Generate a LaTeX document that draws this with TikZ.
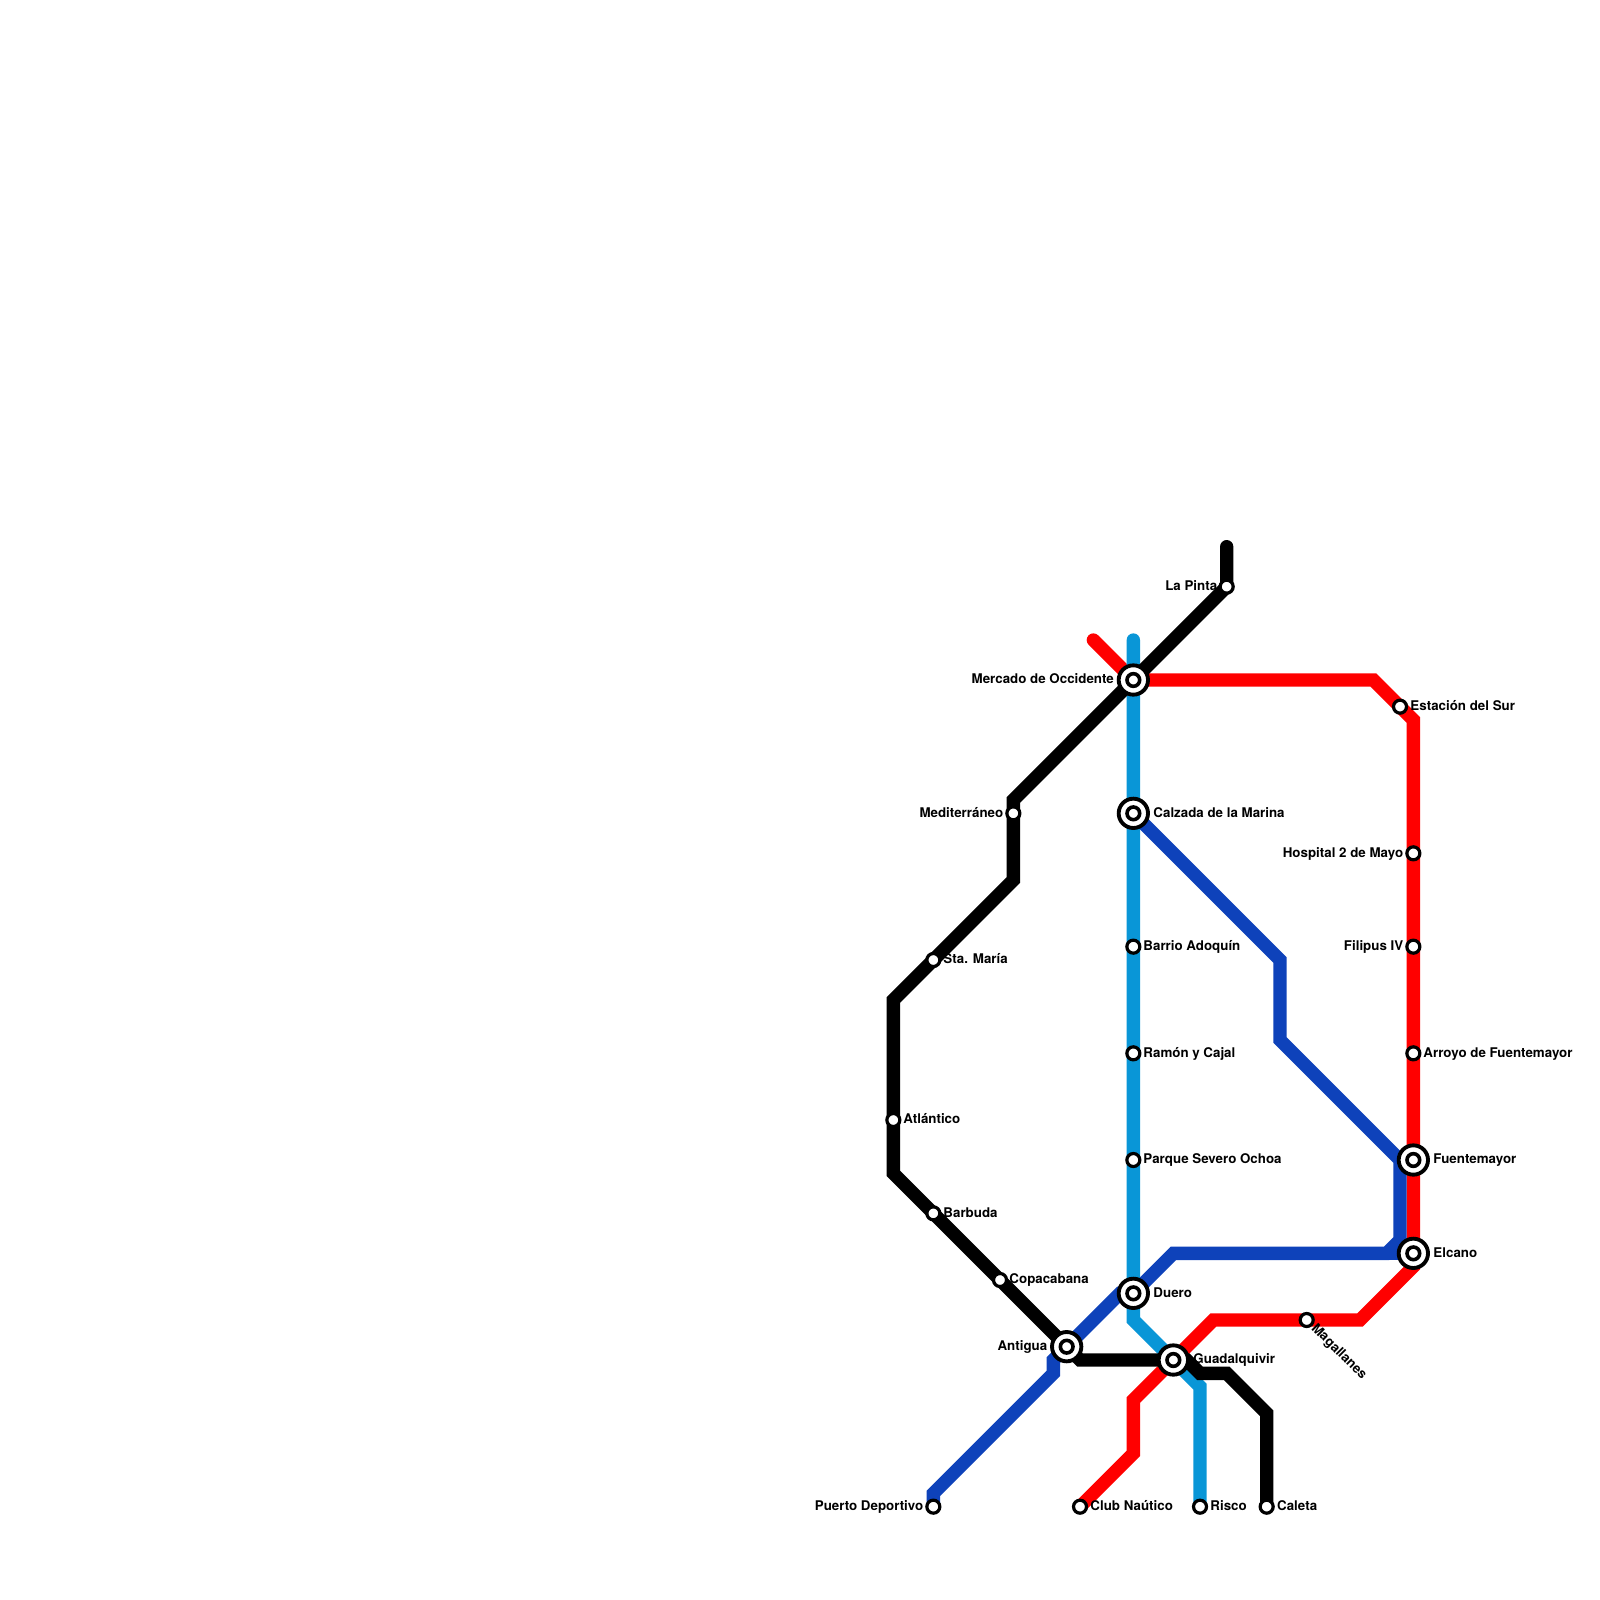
\documentclass[tikz,border=0pt]{standalone}
\usepackage{fontspec}
\setmainfont{TeX Gyre Heros}
\definecolor{linered}{RGB}{255,0,0}
\definecolor{linecyan}{RGB}{9,150,215}
\definecolor{lineblue}{RGB}{14,66,186}
\usetikzlibrary{positioning,backgrounds}

\begin{document}
\begin{tikzpicture}[x=0.2cm, y=-0.2cm,
  stn/.style={circle, draw=black, fill=white, line width=0.48mm, minimum size=1.95mm, inner sep=0pt},
  hub/.style={circle, draw=black, fill=white, line width=0.58mm, minimum size=4.4mm, inner sep=0pt,
    path picture={\draw[line width=0.54mm] (path picture bounding box.center) circle (0.95mm);}},
  lbl/.style={font=\fontsize{5.69pt}{6.8pt}\selectfont\bfseries, inner sep=0pt, text height=4.1pt, text depth=0pt, yshift=0.4pt},
  metro/.style={line width=2mm, line cap=round, line join=miter, miter limit=10}]
\useasboundingbox (0,0) rectangle (120,120);
\foreach \n/\x/\y in {pinta/92/44, mediterraneo/76/61, sta/70/72, atlantico/67/84, barbuda/70/91, copa/75/96,
  estacion/105/53, hospital/106/64, filipus/106/71, arroyo/106/79, magallanes/98/99, nautico/81/113,
  risco/90/113, caleta/95/113, puerto/70/113, barrio/85/71, ramon/85/79, parque/85/87}
  \node[stn] (\n) at (\x,\y) {};
\foreach \n/\x/\y in {mercado/85/51, calzada/85/61, duero/85/97, antigua/80/101, guadal/88/102, fuente/106/87, elcano/106/94}
  \node[hub] (\n) at (\x,\y) {};
\foreach \n/\x/\y in {ka/92/41, kb/76/60, kc/76/66, kd/67/75, ke/67/88, kf/81/102, kj/89/102, kg/90/103, kh/92/103, ki/95/106,
  ra/82/48, rb/103/51, rc/106/54, rd/106/95, re/102/99, rf/91/99, rg/85/105, rh/85/109,
  ca/85/48, cb/85/99, cc/90/104,
  ba/96/72, bb/96/78, bc/105/87, bd/105/93, be/104/94, bf/88/94, bk/84/97, bh/79/102, bi/79/103, bj/70/112}
  \coordinate (\n) at (\x,\y);
\node[lbl, left=1.35mm of pinta.center] (pintalbl) {La Pinta};
\node[lbl, left=2.85mm of mercado.center] (mercadolbl) {Mercado de Occidente};
\node[lbl, left=1.45mm of mediterraneo.center] (mediterraneolbl) {Mediterráneo};
\node[lbl, right=1.45mm of sta.center] (stalbl) {Sta. María};
\node[lbl, right=1.45mm of atlantico.center] (atlanticolbl) {Atlántico};
\node[lbl, right=1.45mm of barbuda.center] (barbudalbl) {Barbuda};
\node[lbl, right=1.35mm of copa.center] (copalbl) {Copacabana};
\node[lbl, left=2.85mm of antigua.center] (antigualbl) {Antigua};
\node[lbl, left=1.45mm of puerto.center] (puertolbl) {Puerto Deportivo};
\node[lbl, right=1.5mm of nautico.center] (nauticolbl) {Club Naútico};
\node[lbl, right=1.5mm of risco.center] (riscolbl) {Risco};
\node[lbl, right=1.5mm of caleta.center] (caletalbl) {Caleta};
\node[lbl, right=2.95mm of guadal.center] (guadallbl) {Guadalquivir};
\node[lbl, right=2.95mm of duero.center] (duerolbl) {Duero};
\node[lbl, right=1.45mm of parque.center] (parquelbl) {Parque Severo Ochoa};
\node[lbl, right=1.45mm of ramon.center] (ramonlbl) {Ramón y Cajal};
\node[lbl, right=1.45mm of barrio.center] (barriolbl) {Barrio Adoquín};
\node[lbl, right=2.95mm of calzada.center] (calzadalbl) {Calzada de la Marina};
\node[lbl, right=1.5mm of estacion.center] (estacionlbl) {Estación del Sur};
\node[lbl, left=1.45mm of hospital.center] (hospitallbl) {Hospital 2 de Mayo};
\node[lbl, left=1.45mm of filipus.center] (filipuslbl) {Filipus IV};
\node[lbl, right=1.45mm of arroyo.center] (arroyolbl) {Arroyo de Fuentemayor};
\node[lbl, right=2.95mm of fuente.center] (fuentelbl) {Fuentemayor};
\node[lbl, right=2.95mm of elcano.center] (elcanolbl) {Elcano};
\node[lbl, rotate=-45, anchor=west] (magallaneslbl) at ([shift={(1.1mm,-0.95mm)}]magallanes.center) {Magallanes};
\begin{pgfonlayer}{background}
\draw[metro, linered] (ra) -- (mercado.center) -- (rb) -- (rc) -- (hospital.center) -- (filipus.center) -- (arroyo.center)
  -- (fuente.center) -- (elcano.center) -- (rd) -- (re) -- (magallanes.center) -- (rf) -- (guadal.center) -- (rg) -- (rh) -- (nautico.center);
\draw[metro, linecyan] (ca) -- (mercado.center) -- (calzada.center) -- (barrio.center) -- (ramon.center) -- (parque.center)
  -- (duero.center) -- (cb) -- (guadal.center) -- (cc) -- (risco.center);
\draw[metro, lineblue] (calzada.center) -- (ba) -- (bb) -- (bc) -- (bd) -- (be) -- (bf) -- (duero.center) -- (bk) -- (antigua.center) -- (bh) -- (bi) -- (bj) -- (puerto.center);
\draw[metro, lineblue] (be) -- (elcano.center);
\draw[metro, black] (ka) -- (pinta.center) -- (mercado.center) -- (kb) -- (mediterraneo.center) -- (kc) -- (sta.center) -- (kd)
  -- (atlantico.center) -- (ke) -- (barbuda.center) -- (copa.center) -- (antigua.center) -- (kf) -- (guadal.center) -- (kj) -- (kg) -- (kh) -- (ki) -- (caleta.center);
\end{pgfonlayer}
\end{tikzpicture}
\end{document}
